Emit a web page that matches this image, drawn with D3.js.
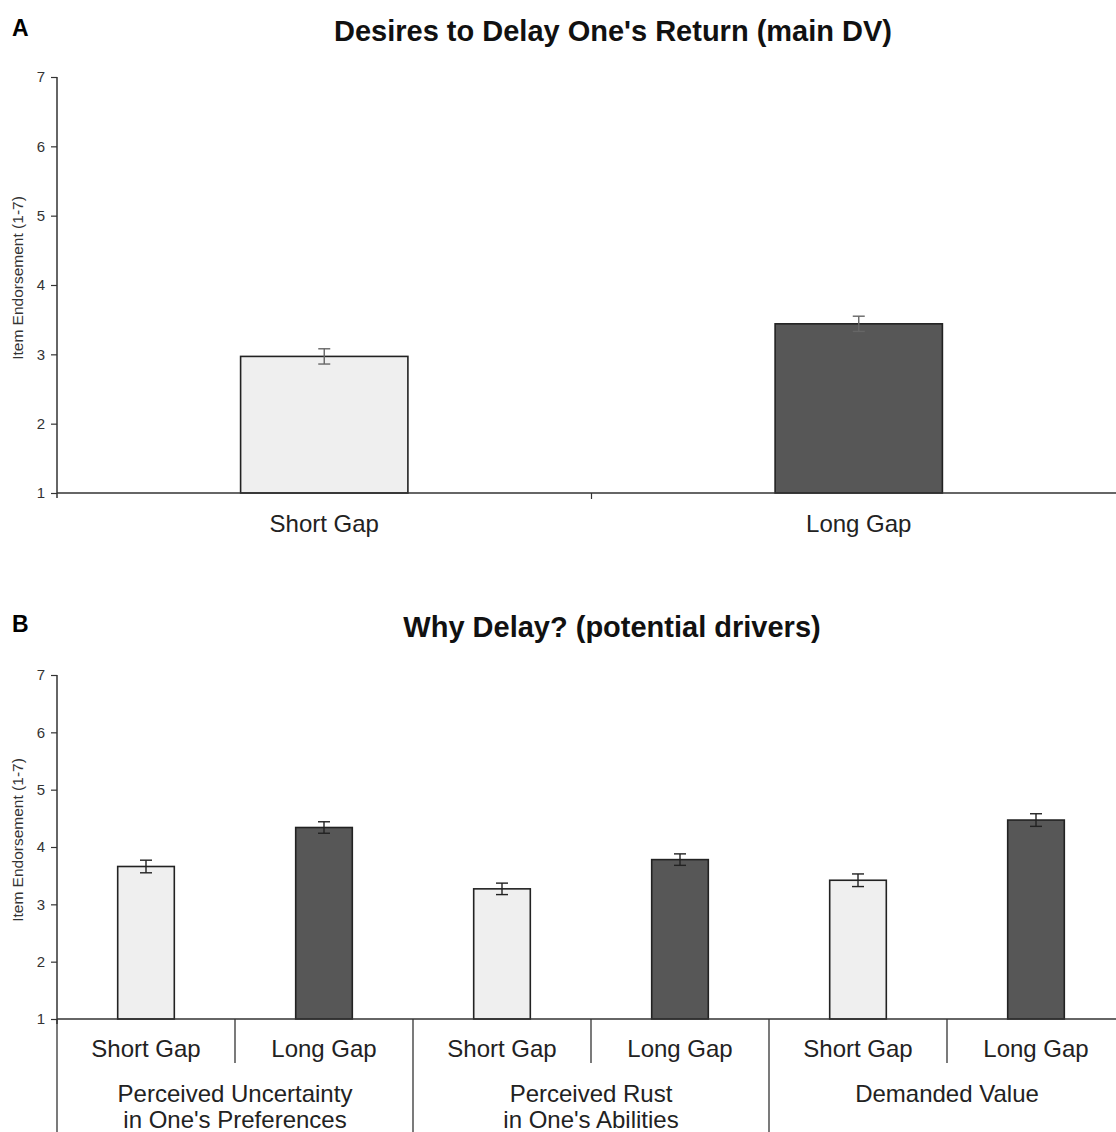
<!DOCTYPE html>
<html>
<head>
<meta charset="utf-8">
<script src="https://cdn.jsdelivr.net/npm/d3@7"></script>
<style>
  body { margin: 0; background: #fff; }
  svg { display: block; font-family: "Liberation Sans", Arial, sans-serif; }
</style>
</head>
<body>
<svg width="1116" height="1132"></svg>
<script>
// data
var conditions = ["Short Gap", "Long Gap"];
var mainMeans = [2.97, 3.44];
var mainErr = [0.11, 0.11];

var drivers = [["Perceived Uncertainty", "in One's Preferences"],
               ["Perceived Rust", "in One's Abilities"],
               ["Demanded Value"]];
var driverShort = [3.66, 3.27, 3.42];
var driverLong = [4.34, 3.78, 4.47];
var driverShortErr = [0.11, 0.10, 0.11];
var driverLongErr = [0.10, 0.10, 0.11];

var yTicks = [1, 2, 3, 4, 5, 6, 7];
var fills = {"Short Gap": "#efefef", "Long Gap": "#575757"};

var svg = d3.select("svg");
var left = 57, right = 1126;

function yAxis(g, y) {
    g.call(d3.axisLeft(y).tickValues(yTicks).tickSize(6).tickPadding(6).tickFormat(d3.format("d")));
    g.select(".domain").remove();
    g.selectAll(".tick line").attr("stroke", "#333").attr("stroke-width", 1.2);
    g.selectAll(".tick text").attr("font-size", 15).attr("fill", "#333")
        .attr("font-family", "Liberation Sans, Arial, sans-serif");
    g.append("line").attr("x1", 0).attr("x2", 0)
        .attr("y1", y(7)).attr("y2", y(1) + 5)
        .attr("stroke", "#333").attr("stroke-width", 1.5);
}

function yLabel(cy) {
    svg.append("text")
        .attr("transform", "translate(23," + cy + ") rotate(-90)")
        .attr("text-anchor", "middle")
        .attr("font-size", 15.5).attr("fill", "#333")
        .text("Item Endorsement (1-7)");
}

function errBar(g, cx, y, m, e, color) {
    g.append("line").attr("x1", cx).attr("x2", cx).attr("y1", y(m + e)).attr("y2", y(m - e))
        .attr("stroke", color).attr("stroke-width", 1.4);
    [m + e, m - e].forEach(function (v) {
        g.append("line").attr("x1", cx - 6).attr("x2", cx + 6).attr("y1", y(v)).attr("y2", y(v))
            .attr("stroke", color).attr("stroke-width", 1.4);
    });
}

// ---------- panel A ----------
var yA = d3.scaleLinear().domain([1, 7]).range([493, 77]);
var xA = d3.scaleBand().domain(conditions).range([left, right]);
var gA = svg.append("g");

svg.append("text").attr("x", 12).attr("y", 36).attr("font-size", 23).attr("font-weight", "bold").text("A");
svg.append("text").attr("x", 613).attr("y", 41).attr("text-anchor", "middle")
    .attr("font-size", 29).attr("font-weight", "bold").attr("fill", "#111")
    .text("Desires to Delay One's Return (main DV)");

var bwA = xA.bandwidth() * 0.313;
conditions.forEach(function (c, i) {
    var cx = xA(c) + xA.bandwidth() / 2;
    gA.append("rect")
        .attr("x", cx - bwA / 2).attr("y", yA(mainMeans[i]))
        .attr("width", bwA).attr("height", yA(1) - yA(mainMeans[i]))
        .attr("fill", fills[c]).attr("stroke", "#222").attr("stroke-width", 1.6);
    errBar(gA, cx, yA, mainMeans[i], mainErr[i], "#666");
    gA.append("text").attr("x", cx).attr("y", 532).attr("text-anchor", "middle")
        .attr("font-size", 24).attr("fill", "#222").text(c);
});
// x axis
gA.append("line").attr("x1", left).attr("x2", 1116).attr("y1", yA(1)).attr("y2", yA(1))
    .attr("stroke", "#333").attr("stroke-width", 1.5);
gA.append("line").attr("x1", xA("Long Gap")).attr("x2", xA("Long Gap"))
    .attr("y1", yA(1)).attr("y2", yA(1) + 6).attr("stroke", "#333").attr("stroke-width", 1.2);
svg.append("g").attr("transform", "translate(" + left + ",0)").call(yAxis, yA);
yLabel(278);

// ---------- panel B ----------
var yB = d3.scaleLinear().domain([1, 7]).range([1019, 675]);
var groups = drivers.map(function (d) { return d.join(" "); });
var xB = d3.scaleBand().domain(groups).range([left, 1125]);
var xSub = d3.scaleBand().domain(conditions).range([0, xB.bandwidth()]);
var gB = svg.append("g");

svg.append("text").attr("x", 12).attr("y", 632).attr("font-size", 23).attr("font-weight", "bold").text("B");
svg.append("text").attr("x", 612).attr("y", 637).attr("text-anchor", "middle")
    .attr("font-size", 29).attr("font-weight", "bold").attr("fill", "#111")
    .text("Why Delay? (potential drivers)");

var bwB = xSub.bandwidth() * 0.318;
groups.forEach(function (gname, gi) {
    var x0 = xB(gname);
    var vals = [driverShort[gi], driverLong[gi]];
    var errs = [driverShortErr[gi], driverLongErr[gi]];
    conditions.forEach(function (c, i) {
        var cx = x0 + xSub(c) + xSub.bandwidth() / 2;
        gB.append("rect")
            .attr("x", cx - bwB / 2).attr("y", yB(vals[i]))
            .attr("width", bwB).attr("height", yB(1) - yB(vals[i]))
            .attr("fill", fills[c]).attr("stroke", "#222").attr("stroke-width", 1.6);
        errBar(gB, cx, yB, vals[i], errs[i], "#222");
        gB.append("text").attr("x", cx).attr("y", 1057).attr("text-anchor", "middle")
            .attr("font-size", 24).attr("fill", "#222").text(c);
    });
    // inner divider
    var mid = x0 + xSub("Long Gap");
    gB.append("line").attr("x1", mid).attr("x2", mid).attr("y1", yB(1)).attr("y2", 1063)
        .attr("stroke", "#333").attr("stroke-width", 1.3);
    // outer divider
    gB.append("line").attr("x1", x0).attr("x2", x0).attr("y1", yB(1)).attr("y2", 1132)
        .attr("stroke", "#333").attr("stroke-width", 1.3);
    // group label
    drivers[gi].forEach(function (line, li) {
        gB.append("text").attr("x", x0 + xB.bandwidth() / 2).attr("y", 1102 + li * 26)
            .attr("text-anchor", "middle").attr("font-size", 24).attr("fill", "#222").text(line);
    });
});
gB.append("line").attr("x1", left).attr("x2", 1116).attr("y1", yB(1)).attr("y2", yB(1))
    .attr("stroke", "#333").attr("stroke-width", 1.5);
svg.append("g").attr("transform", "translate(" + left + ",0)").call(yAxis, yB);
yLabel(840);
</script>
</body>
</html>
